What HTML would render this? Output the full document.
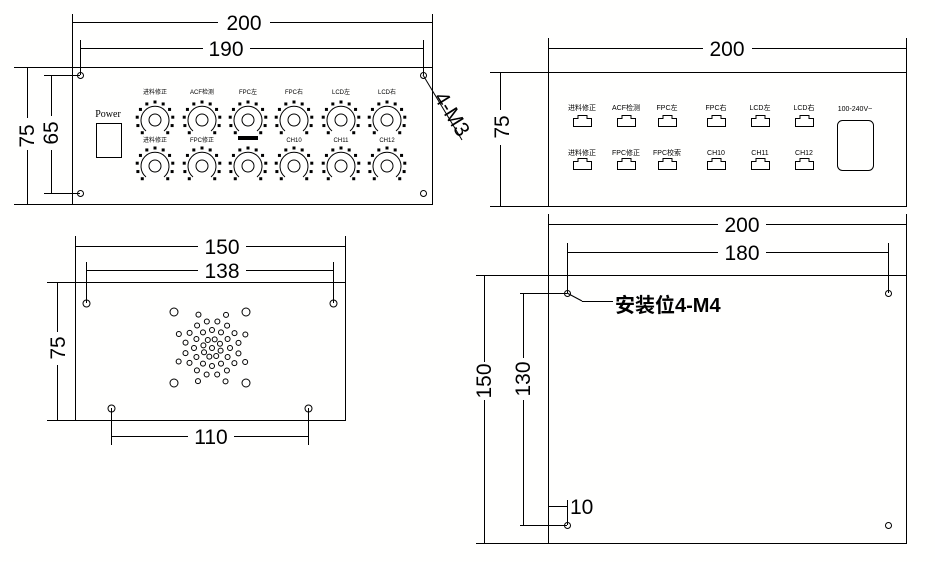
<!DOCTYPE html>
<html><head><meta charset="utf-8"><style>
html,body{margin:0;padding:0;background:#fff;}
svg{display:block;}
text{font-family:"Liberation Sans","Noto Sans CJK SC",sans-serif;fill:#000;}
.d{font-size:21px;}
</style></head><body>
<svg id="s" width="935" height="562" viewBox="0 0 935 562" xmlns="http://www.w3.org/2000/svg" stroke="#000" fill="none" stroke-width="1">
<rect width="935" height="562" fill="#fffffe" stroke="none"/>
<!-- Front panel -->
<rect x="72.5" y="67.5" width="360" height="137"/>
<line x1="72.5" y1="14" x2="72.5" y2="67"/><line x1="432.5" y1="14" x2="432.5" y2="67"/>
<line x1="72" y1="22.5" x2="218" y2="22.5"/><line x1="270" y1="22.5" x2="432" y2="22.5"/>
<text class="d" x="244" y="30" text-anchor="middle" stroke="none">200</text>
<line x1="80.5" y1="40" x2="80.5" y2="75"/><line x1="423.5" y1="40" x2="423.5" y2="75"/>
<line x1="80" y1="48.5" x2="203" y2="48.5"/><line x1="250" y1="48.5" x2="423" y2="48.5"/>
<text class="d" x="226" y="56" text-anchor="middle" stroke="none">190</text>
<line x1="14" y1="67.5" x2="72" y2="67.5"/><line x1="14" y1="204.5" x2="72" y2="204.5"/>
<line x1="27.5" y1="67" x2="27.5" y2="118"/><line x1="27.5" y1="150" x2="27.5" y2="204"/>
<text class="d" transform="translate(27,136) rotate(-90)" text-anchor="middle" y="7" stroke="none">75</text>
<line x1="44" y1="75.5" x2="80" y2="75.5"/><line x1="44" y1="193.5" x2="80" y2="193.5"/>
<line x1="51.5" y1="75" x2="51.5" y2="116"/><line x1="51.5" y1="150" x2="51.5" y2="193"/>
<text class="d" transform="translate(51,133) rotate(-90)" text-anchor="middle" y="7" stroke="none">65</text>
<circle cx="80.5" cy="75.5" r="3"/><circle cx="423.5" cy="75.5" r="3"/><circle cx="80.5" cy="193.5" r="3"/><circle cx="423.5" cy="193.5" r="3"/>
<line x1="423" y1="75" x2="462" y2="140"/>
<text class="d" transform="translate(452,114) rotate(58)" text-anchor="middle" y="7" stroke="none">4-M3</text>
<text x="108" y="117" font-size="10" text-anchor="middle" stroke="none" style="font-family:'Liberation Serif',serif">Power</text>
<rect x="96.5" y="123.5" width="25" height="34"/>
<g id="knobs"></g>
<!-- Rear panel -->
<rect x="548.5" y="72.5" width="358" height="134"/>
<line x1="548.5" y1="38" x2="548.5" y2="72"/><line x1="906.5" y1="38" x2="906.5" y2="72"/>
<line x1="548" y1="48.5" x2="703" y2="48.5"/><line x1="752" y1="48.5" x2="906" y2="48.5"/>
<text class="d" x="727" y="56" text-anchor="middle" stroke="none">200</text>
<line x1="490" y1="72.5" x2="548" y2="72.5"/><line x1="490" y1="206.5" x2="548" y2="206.5"/>
<line x1="500.5" y1="72" x2="500.5" y2="110"/><line x1="500.5" y1="145" x2="500.5" y2="206"/>
<text class="d" transform="translate(502,127) rotate(-90)" text-anchor="middle" y="7" stroke="none">75</text>
<g id="ports"></g>
<text x="855" y="111" font-size="7" text-anchor="middle" stroke="none">100-240V~</text>
<rect x="837.5" y="120.5" width="36" height="50" rx="5"/>
<!-- Bottom-left -->
<rect x="75.5" y="282.5" width="270" height="138"/>
<line x1="75.5" y1="236" x2="75.5" y2="282"/><line x1="345.5" y1="236" x2="345.5" y2="282"/>
<line x1="75" y1="246.5" x2="198" y2="246.5"/><line x1="246" y1="246.5" x2="345" y2="246.5"/>
<text class="d" x="222" y="254" text-anchor="middle" stroke="none">150</text>
<line x1="86.5" y1="262" x2="86.5" y2="303"/><line x1="333.5" y1="262" x2="333.5" y2="303"/>
<line x1="86" y1="270.5" x2="198" y2="270.5"/><line x1="246" y1="270.5" x2="333" y2="270.5"/>
<text class="d" x="222" y="278" text-anchor="middle" stroke="none">138</text>
<line x1="47" y1="282.5" x2="75" y2="282.5"/><line x1="47" y1="420.5" x2="75" y2="420.5"/>
<line x1="57.5" y1="282" x2="57.5" y2="332"/><line x1="57.5" y1="365" x2="57.5" y2="420"/>
<text class="d" transform="translate(58,348) rotate(-90)" text-anchor="middle" y="7" stroke="none">75</text>
<line x1="111.5" y1="408" x2="111.5" y2="445"/><line x1="308.5" y1="408" x2="308.5" y2="445"/>
<line x1="111" y1="436.5" x2="188" y2="436.5"/><line x1="234" y1="436.5" x2="308" y2="436.5"/>
<text class="d" x="211" y="444" text-anchor="middle" stroke="none">110</text>
<circle cx="86.5" cy="303.5" r="3.5"/><circle cx="333.5" cy="303.5" r="3.5"/><circle cx="111.5" cy="408.5" r="3.5"/><circle cx="308.5" cy="408.5" r="3.5"/>
<circle cx="174" cy="312" r="4"/><circle cx="246" cy="312" r="4"/><circle cx="174" cy="383" r="4"/><circle cx="246" cy="383" r="4"/>
<g id="spk"></g>
<!-- Bottom-right -->
<rect x="548.5" y="275.5" width="358" height="268"/>
<line x1="548.5" y1="214" x2="548.5" y2="275"/><line x1="906.5" y1="214" x2="906.5" y2="275"/>
<line x1="548" y1="224.5" x2="718" y2="224.5"/><line x1="766" y1="224.5" x2="906" y2="224.5"/>
<text class="d" x="742" y="232" text-anchor="middle" stroke="none">200</text>
<line x1="567.5" y1="243" x2="567.5" y2="293"/><line x1="888.5" y1="243" x2="888.5" y2="293"/>
<line x1="567" y1="252.5" x2="718" y2="252.5"/><line x1="766" y1="252.5" x2="888" y2="252.5"/>
<text class="d" x="742" y="260" text-anchor="middle" stroke="none">180</text>
<line x1="476" y1="275.5" x2="548" y2="275.5"/><line x1="476" y1="543.5" x2="548" y2="543.5"/>
<line x1="484.5" y1="275" x2="484.5" y2="362"/><line x1="484.5" y1="400" x2="484.5" y2="543"/>
<text class="d" transform="translate(484,381) rotate(-90)" text-anchor="middle" y="7" stroke="none">150</text>
<line x1="520" y1="293.5" x2="567" y2="293.5"/><line x1="520" y1="525.5" x2="567" y2="525.5"/>
<line x1="523.5" y1="293" x2="523.5" y2="358"/><line x1="523.5" y1="400" x2="523.5" y2="525"/>
<text class="d" transform="translate(523,379) rotate(-90)" text-anchor="middle" y="7" stroke="none">130</text>
<circle cx="567.5" cy="293.5" r="3"/><circle cx="888.5" cy="293.5" r="3"/><circle cx="567.5" cy="525.5" r="3"/><circle cx="888.5" cy="525.5" r="3"/>
<line x1="567" y1="293" x2="582" y2="301"/><line x1="582" y1="301.5" x2="613" y2="301.5"/>
<text x="615" y="312" font-size="20" font-weight="bold" stroke="none">安装位4-M4</text>
<line x1="548" y1="506.5" x2="567" y2="506.5"/><line x1="567.5" y1="500" x2="567.5" y2="525"/>
<text class="d" x="570" y="514" stroke="none">10</text>
</svg>
<script>
var NS="http://www.w3.org/2000/svg";
function el(p,t,a,txt){var e=document.createElementNS(NS,t);for(var k in a)e.setAttribute(k,a[k]);if(txt){e.textContent=txt;}p.appendChild(e);return e;}
var K=document.getElementById("knobs");
var xs=[155,202,248,294,341,387];
var l1=["进料修正","ACF检测","FPC左","FPC右","LCD左","LCD右"];
var l2=["进料修正","FPC修正","","CH10","CH11","CH12"];
[[120,l1,92],[166,l2,140]].forEach(function(r){
 xs.forEach(function(x,i){
  var y=r[0];
  el(K,"circle",{cx:x,cy:y,r:6});
  el(K,"path",{d:"M"+(x-9)+" "+(y+11)+" A14 14 0 1 1 "+(x+9)+" "+(y+11)});
  for(var a=-135;a<=135;a+=27){var rad=(a-90)*Math.PI/180;var px=x+18*Math.cos(rad),py=y+18*Math.sin(rad);
   el(K,"rect",{x:px-1.5,y:py-1.5,width:3,height:3,fill:"#000",stroke:"none"});}
  if(r[1][i])el(K,"text",{x:x,y:r[2]+2,"font-size":6,"text-anchor":"middle",stroke:"none",fill:(r[0]==166&&i>2)?"#a60":"#000"},r[1][i]);
 });
});
el(K,"rect",{x:238,y:136,width:20,height:4,fill:"#000",stroke:"none"});
var P=document.getElementById("ports");
var px=[582,626,667,716,760,804];
var p1=["进料修正","ACF检测","FPC左","FPC右","LCD左","LCD右"];
var p2=["进料修正","FPC修正","FPC校索","CH10","CH11","CH12"];
[[115,p1,110],[158,p2,155]].forEach(function(r){
 px.forEach(function(x,i){
  var y=r[0]+0.5,L=x-9+0.5,R=x+9+0.5;
  el(P,"path",{d:"M"+L+" "+(y+3)+" H"+(x-4)+" V"+y+" H"+(x+5)+" V"+(y+3)+" H"+R+" V"+(y+11)+" H"+L+" Z"});
  el(P,"text",{x:x,y:r[2],"font-size":7,"text-anchor":"middle",stroke:"none"},r[1][i]);
 });
});
var S=document.getElementById("spk");
var cx=212,cy=348;
var pts=[];
for(var i=0;i<8;i++){var a=i*Math.PI/4+0.3;pts.push([9*Math.cos(a),9*Math.sin(a)]);}
for(var i=0;i<12;i++){var a=i*Math.PI/6;pts.push([18*Math.cos(a),18*Math.sin(a)]);}
for(var i=0;i<16;i++){var a=i*Math.PI/8+0.2;pts.push([27*Math.cos(a),27*Math.sin(a)]);}
for(var i=0;i<8;i++){var a=i*Math.PI/4+0.4;pts.push([36*Math.cos(a),36*Math.sin(a)]);}
pts.push([0,0]);
pts.forEach(function(p){el(S,"circle",{cx:cx+p[0],cy:cy+p[1],r:2.5});});
</script>
</body></html>
